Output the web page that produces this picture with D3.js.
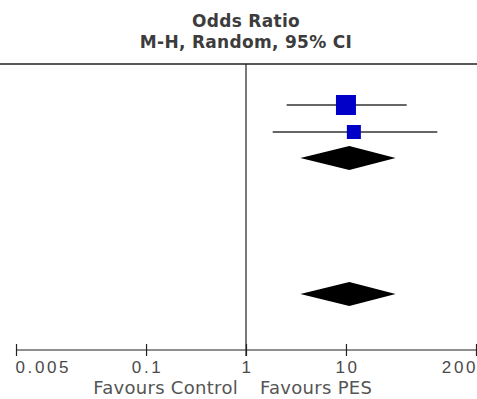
<!DOCTYPE html>
<html>
<head>
<meta charset="utf-8" />
<title>Forest plot</title>
<script src="https://d3js.org/d3.v7.min.js"></script>
<style>
html, body { margin: 0; padding: 0; background: #fff; }
svg { display: block; font-family: "DejaVu Sans", sans-serif; }
.title { font-size: 17px; font-weight: bold; fill: #3c3c3c; letter-spacing: 0.3px; }
.tick text { font-size: 17px; fill: #4a4a4a; letter-spacing: 2.6px; }
.favours { font-size: 18px; fill: #555; letter-spacing: 0.3px; }
</style>
</head>
<body>
<script>
let width = 477, height = 399;

// study estimates (odds ratios) and 95% CI
let studyOR = [10, 12];
let studyLow = [2.55, 1.85];
let studyHigh = [40.5, 82];
let studyWeight = [20, 14]; // square side

// pooled estimates (diamonds)
let pooledOR = [10.8, 10.8];
let pooledLow = [3.5, 3.5];
let pooledHigh = [31.4, 31.4];

let tickValues = [0.005, 0.1, 1, 10, 200];
let tickLabels = ['0.005', '0.1', '1', '10', '200'];

let rowY = [105, 132, 158, 294];
let axisY = 350, topY = 64;

let svg = d3.select('body').append('svg').attr('width', width).attr('height', height);

let x = d3.scaleLog().domain([0.005, 200]).range([16, 476]);

svg.append('text').attr('class', 'title').attr('x', x(1)).attr('y', 27).attr('text-anchor', 'middle').text('Odds Ratio');
svg.append('text').attr('class', 'title').attr('x', x(1)).attr('y', 48).attr('text-anchor', 'middle').text('M-H, Random, 95% CI');

svg.append('line').attr('x1', 0).attr('x2', width).attr('y1', topY).attr('y2', topY)
    .attr('stroke', '#222').attr('stroke-width', 1.5);
svg.append('line').attr('x1', x(1)).attr('x2', x(1)).attr('y1', topY).attr('y2', axisY + 6)
    .attr('stroke', '#222').attr('stroke-width', 1.2);

// axis
let axis = d3.axisBottom(x).tickValues(tickValues).tickFormat((d, i) => tickLabels[i]).tickSizeOuter(0).tickSizeInner(6);
let g = svg.append('g').attr('transform', 'translate(0,' + axisY + ')').call(axis);
g.select('.domain').attr('stroke', '#222').attr('stroke-width', 1.2).attr('d', 'M' + x(0.005) + ',0H' + width);
g.selectAll('.tick line').attr('y1', -6).attr('y2', 6).attr('stroke', '#222').attr('stroke-width', 1.2);
g.selectAll('.tick text').attr('font-family', null).attr('font-size', null)
    .attr('y', 23).attr('dy', 0)
    .attr('text-anchor', (d, i) => i === 0 ? 'start' : (i === tickValues.length - 1 ? 'end' : 'middle'))
    .attr('dx', (d, i) => i === 0 ? -1 : (i === tickValues.length - 1 ? 1.5 : 1));

svg.append('text').attr('class', 'favours').attr('x', x(1) - 8).attr('y', 394).attr('text-anchor', 'end').text('Favours Control');
svg.append('text').attr('class', 'favours').attr('x', x(1) + 14).attr('y', 394).attr('text-anchor', 'start').text('Favours PES');

// study rows
studyOR.forEach((or, i) => {
    svg.append('line').attr('x1', x(studyLow[i])).attr('x2', x(studyHigh[i]))
        .attr('y1', rowY[i]).attr('y2', rowY[i]).attr('stroke', '#333').attr('stroke-width', 1.3);
    let s = studyWeight[i];
    svg.append('rect').attr('x', x(or) - s / 2).attr('y', rowY[i] - s / 2).attr('width', s).attr('height', s)
        .attr('fill', '#0000c8');
});

// pooled diamonds
pooledOR.forEach((or, i) => {
    let y = rowY[studyOR.length + i], h = 12;
    svg.append('path').attr('d', 'M' + x(pooledLow[i]) + ',' + y + 'L' + x(or) + ',' + (y - h) +
        'L' + x(pooledHigh[i]) + ',' + y + 'L' + x(or) + ',' + (y + h) + 'Z').attr('fill', '#000');
});
</script>
</body>
</html>
